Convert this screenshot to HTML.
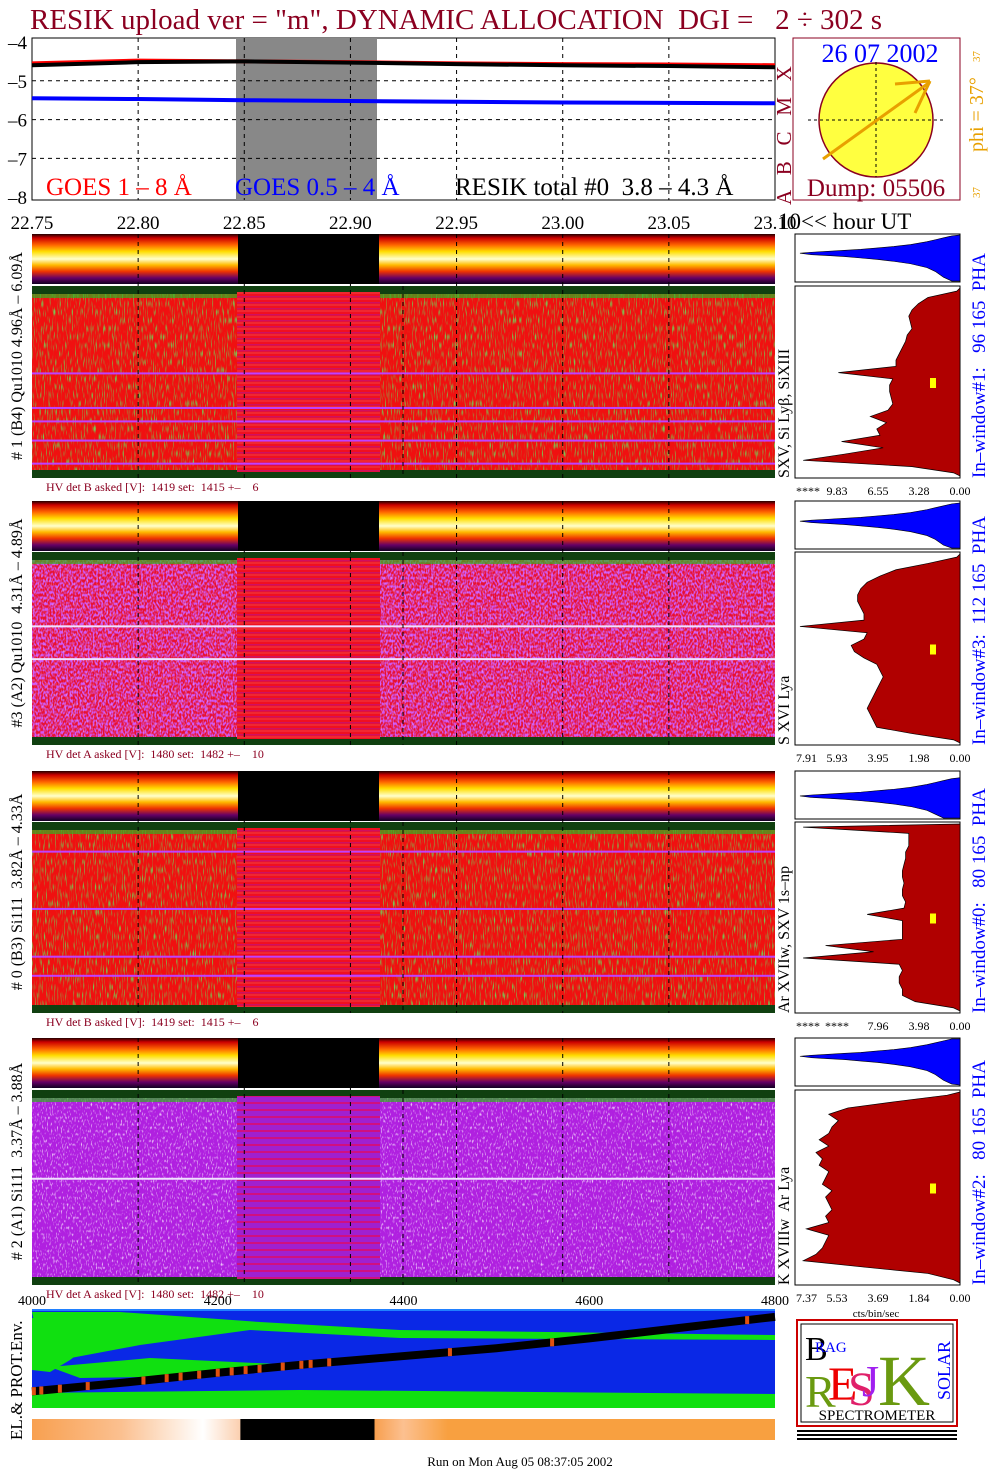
<!DOCTYPE html>
<html><head><meta charset="utf-8"><style>
html,body{margin:0;padding:0;background:#fff;}
svg{display:block;font-family:"Liberation Serif",serif;}
text{white-space:pre;}
</style></head><body>
<svg id="c" width="1004" height="1476" viewBox="0 0 1004 1476" xmlns="http://www.w3.org/2000/svg">
<defs>
<filter id="spkG" x="0" y="0" width="1" height="1"><feTurbulence type="fractalNoise" baseFrequency="0.9 0.12" numOctaves="1" seed="3"/><feColorMatrix type="matrix" values="0 0 0 0 0.15  0 0 0 0 0.7  0 0 0 0 0.1  4 0 0 0 -2.1"/></filter>
<filter id="spkP" x="0" y="0" width="1" height="1"><feTurbulence type="fractalNoise" baseFrequency="0.8 0.3" numOctaves="1" seed="7"/><feColorMatrix type="matrix" values="0 0 0 0 0.95  0 0 0 0 0.85  0 0 0 0 1  4 0 0 0 -2.2"/></filter>
<filter id="spkV" x="0" y="0" width="1" height="1"><feTurbulence type="fractalNoise" baseFrequency="0.6 0.35" numOctaves="1" seed="11"/><feColorMatrix type="matrix" values="0 0 0 0 0.62  0 0 0 0 0.1  0 0 0 0 0.95  4 0 0 0 -1.6"/></filter>
<linearGradient id="strip" x1="0" y1="0" x2="0" y2="1">
<stop offset="0" stop-color="#200"/><stop offset="0.08" stop-color="#c00"/><stop offset="0.22" stop-color="#f60"/><stop offset="0.35" stop-color="#fd0"/><stop offset="0.5" stop-color="#ffc"/><stop offset="0.62" stop-color="#fb0"/><stop offset="0.75" stop-color="#e30"/><stop offset="0.88" stop-color="#606"/><stop offset="1" stop-color="#102"/>
</linearGradient>
<pattern id="gapStripe" width="10" height="6" patternUnits="userSpaceOnUse"><rect width="10" height="6" fill="#f01020"/><rect y="2" width="10" height="1.5" fill="#d01060"/><rect y="4.5" width="10" height="1" fill="#f04040"/></pattern>
<pattern id="gapStripeV" width="10" height="7" patternUnits="userSpaceOnUse"><rect width="10" height="7" fill="#a020d0"/><rect y="3" width="10" height="2" fill="#d01080"/></pattern>
<linearGradient id="orangeStrip" x1="0" y1="0" x2="1" y2="0">
<stop offset="0" stop-color="#f8a050"/><stop offset="0.12" stop-color="#fbc090"/><stop offset="0.23" stop-color="#fff"/><stop offset="0.28" stop-color="#fbd0b0"/><stop offset="0.281" stop-color="#000"/><stop offset="0.46" stop-color="#000"/><stop offset="0.462" stop-color="#f8a050"/><stop offset="0.5" stop-color="#fcc090"/><stop offset="0.56" stop-color="#f8a040"/><stop offset="1" stop-color="#f8a040"/>
</linearGradient>
</defs>

<text x="30" y="29" font-size="29" fill="#8b0020">RESIK upload ver = "m", DYNAMIC ALLOCATION  DGI =   2 ÷ 302 s</text>

<g id="goes">
<rect x="32" y="38" width="743" height="162" fill="#fff" stroke="#000"/>
<rect x="236" y="38" width="141" height="162" fill="#888"/>
</g>
<text x="46" y="195" font-size="25" fill="#f00">GOES 1 – 8 Å</text>
<text x="235" y="195" font-size="25" fill="#0000ff">GOES 0.5 – 4 Å</text>
<text x="455" y="195" font-size="25" fill="#000">RESIK total #0  3.8 – 4.3 Å</text>
<text transform="translate(791,205) rotate(-90)" font-size="21" fill="#8b0020">A   B   C   M   X</text>

<g>
<rect x="793" y="38" width="167" height="162" fill="#fff" stroke="#8b0020"/>
<circle cx="876" cy="120" r="57" fill="#ffff40" stroke="#8b0020" stroke-width="1.5"/>
<line x1="808" y1="120" x2="943" y2="120" stroke="#000" stroke-dasharray="3,3"/>
<line x1="876" y1="62" x2="876" y2="177" stroke="#000" stroke-dasharray="3,3"/>
<line x1="823" y1="159" x2="930" y2="82" stroke="#e8a000" stroke-width="3"/>
<line x1="895" y1="84" x2="930" y2="81" stroke="#e8a000" stroke-width="3"/>
<line x1="915" y1="113" x2="930" y2="81" stroke="#e8a000" stroke-width="3"/>
<text x="880" y="62" font-size="26" fill="#0000ff" text-anchor="middle">26 07 2002</text>
<text x="876" y="196" font-size="25" fill="#8b0020" text-anchor="middle">Dump: 05506</text>
<text transform="translate(983,152) rotate(-90)" font-size="20" fill="#e8a000">phi = 37°</text>
<text transform="translate(980,62) rotate(-90)" font-size="11" fill="#e8a000">37</text>
<text transform="translate(980,198) rotate(-90)" font-size="11" fill="#e8a000">37</text>
</g>
<text x="778" y="229" font-size="23" fill="#000">10&lt;&lt; hour UT</text>

<g id="panels"></g>
<g id="hists"></g>
<g id="botAxis" font-size="14" fill="#000"></g>

<g>
<rect x="32" y="1310" width="743" height="98" fill="#0a28e6"/>
<path d="M32 1312 L120 1312 L260 1322 L400 1330 L775 1335 L775 1340 L400 1338 L250 1330 L140 1345 L60 1360 L40 1350 Z" fill="#10e010"/>
<path d="M32 1318 L100 1322 L90 1345 L70 1360 L50 1372 L32 1370 Z" fill="#10e010"/>
<path d="M50 1367 L150 1358 L320 1366 L200 1376 L80 1378 Z" fill="#10e010"/>
<path d="M32 1393 L300 1390 L775 1394 L775 1408 L32 1408 Z" fill="#10e010"/>
<line x1="32" y1="1310" x2="775" y2="1310" stroke="#2080ff" stroke-width="2"/>
<g id="envLine"></g>
</g>
<text transform="translate(22,1440) rotate(-90)" font-size="17" fill="#000">EL.&amp; PROT.Env.</text>
<rect x="32" y="1419" width="743" height="21" fill="url(#orangeStrip)"/>

<g>
<rect x="797" y="1320" width="160" height="106" fill="#fff" stroke="#c00" stroke-width="2"/>
<rect x="801" y="1324" width="152" height="98" fill="none" stroke="#000"/>
<text x="805" y="1360" font-size="34" fill="#000">B</text>
<text x="815" y="1352" font-size="15" fill="#00f">RAG</text>
<text x="805" y="1407" font-size="46" fill="#6a9a10">R</text>
<text x="828" y="1400" font-size="48" fill="#e00">E</text>
<text x="848" y="1405" font-size="48" fill="#e0206a">S</text>
<text x="862" y="1396" font-size="44" fill="#a020f0">J</text>
<text x="878" y="1405" font-size="72" fill="#6a9a10">K</text>
<text transform="translate(950,1400) rotate(-90)" font-size="18" fill="#00f">SOLAR</text>
<text x="877" y="1420" font-size="15" fill="#000" text-anchor="middle">SPECTROMETER</text>
<g fill="#000"><rect x="797" y="1430" width="160" height="2"/><rect x="797" y="1434" width="160" height="2"/><rect x="797" y="1438" width="160" height="2"/></g>
</g>
<text x="520" y="1466" font-size="13" fill="#000" text-anchor="middle">Run on Mon Aug 05 08:37:05 2002</text>
</svg>
<script>
const NS='http://www.w3.org/2000/svg';
function mk(tag,attrs,parent){const e=document.createElementNS(NS,tag);for(const k in attrs)e.setAttribute(k,attrs[k]);(parent||document.getElementById('c')).appendChild(e);return e;}

const goesHours=[22.75,22.80,22.85,22.90,22.95,23.00,23.05,23.10];
const goesLong=[-4.55,-4.48,-4.5,-4.52,-4.55,-4.57,-4.58,-4.6];
const goesShort=[-5.45,-5.47,-5.5,-5.52,-5.54,-5.56,-5.57,-5.58];
const resikTotal=[-4.6,-4.52,-4.5,-4.53,-4.57,-4.6,-4.62,-4.65];
const yTicks=[-4,-5,-6,-7,-8];
const xTickLabels=['22.75','22.80','22.85','22.90','22.95','23.00','23.05','23.10'];
const tx=h=>32+(h-22.75)/0.35*743;
const ty=v=>42+(-4-v)*38.8;
const g=document.getElementById('goes');
for(const v of [-5,-6,-7]){const l=mk('line',{x1:32,x2:775,y1:ty(v),y2:ty(v),stroke:'#000','stroke-dasharray':'4,4'},g);

}
for(let i=1;i<goesHours.length-1;i++){const l=mk('line',{x1:tx(goesHours[i]),x2:tx(goesHours[i]),y1:38,y2:200,stroke:'#000','stroke-dasharray':'4,4'},g);

}
function series(arr,color,w,name){const p=mk('polyline',{points:arr.map((v,i)=>tx(goesHours[i])+','+ty(v)).join(' '),fill:'none',stroke:color,'stroke-width':w},g);

}
series(goesLong,'#f00',4,'goes-long-line');
series(resikTotal,'#000',4,'resik-total-line');
series(goesShort,'#00f',4,'goes-short-line');
yTicks.forEach(v=>{const t=mk('text',{x:27,y:ty(v)+7,'font-size':19,'text-anchor':'end'});t.textContent=String(v).replace('-','–');

});
xTickLabels.forEach((s,i)=>{const t=mk('text',{x:tx(goesHours[i]),y:229,'font-size':19,'text-anchor':'middle'});t.textContent=s;

});

const panelTops=[234,501,771,1038];
const panelBig=[[286,478],[552,745],[822,1013],[1090,1285]];
const panelKind=['G','P','G','V'];
const leftLabels=['# 1 (B4) Qu1010 4.96Å – 6.09Å','#3 (A2) Qu1010  4.31Å – 4.89Å','# 0 (B3) Si111  3.82Å – 4.33Å','# 2 (A1) Si111  3.37Å – 3.88Å'];
const lineLabels=['SXV, Si Lyβ, SiXIII','S XVI Lya','Ar XVIIw, SXV 1s–np','K XVIIIw  Ar Lya'];
const hvLabels=['HV det B asked [V]:  1419 set:  1415 +–    6','HV det A asked [V]:  1480 set:  1482 +–    10','HV det B asked [V]:  1419 set:  1415 +–    6','HV det A asked [V]:  1480 set:  1482 +–    10'];
const lineRows=[[0.45,0.63,0.7,0.8,0.92],[0.38,0.55],[0.15,0.45,0.7,0.8],[0.45]];
const P=document.getElementById('panels');
for(let i=0;i<4;i++){
  const top=panelTops[i],b0=panelBig[i][0],b1=panelBig[i][1];
  const s=mk('rect',{x:32,y:top,width:743,height:50,fill:'url(#strip)'},P);
  
  
  mk('rect',{x:238,y:top,width:141,height:50,fill:'#000'},P);
  const base=(panelKind[i]==='V')?'#b020e0':(panelKind[i]==='P'?'#e81030':'#f01010');
  const r=mk('rect',{x:32,y:b0,width:743,height:b1-b0,fill:base},P);
  
  
  if(panelKind[i]==='P'){mk('rect',{x:32,y:b0,width:743,height:b1-b0,fill:'#000',filter:'url(#spkV)'},P);}
  if(panelKind[i]==='V'){mk('rect',{x:32,y:b0,width:743,height:b1-b0,fill:'#000',filter:'url(#spkP)',opacity:0.7},P);}
  mk('rect',{x:32,y:b0,width:743,height:b1-b0,fill:'#000',filter:panelKind[i]==='G'?'url(#spkG)':'url(#spkP)',opacity:panelKind[i]==='G'?0.9:0.4},P);
  mk('rect',{x:32,y:b0,width:743,height:8,fill:'#104010'},P);
  mk('rect',{x:32,y:b0+8,width:743,height:4,fill:'#30b020',opacity:0.7},P);
  mk('rect',{x:32,y:b1-8,width:743,height:8,fill:'#104010'},P);
  mk('rect',{x:237,y:b0+6,width:143,height:b1-b0-12,fill:panelKind[i]==='V'?'url(#gapStripeV)':'url(#gapStripe)'},P);
  lineRows[i].forEach(f=>mk('rect',{x:32,y:b0+f*(b1-b0),width:743,height:2,fill:panelKind[i]==='G'?'#c040ff':'#f0e0ff'},P));
  for(const h of goesHours.slice(1,7)){mk('line',{x1:tx(h),x2:tx(h),y1:top,y2:b1,stroke:'#000','stroke-dasharray':'4,4'},P);}
  mk('line',{x1:403,x2:403,y1:b0,y2:b1,stroke:'#000','stroke-dasharray':'4,4'},P);
  const t=mk('text',{transform:`translate(22,${(top+b1)/2}) rotate(-90)`,'font-size':16,'text-anchor':'middle'},P);t.textContent=leftLabels[i];
  
  
  const t2=mk('text',{transform:`translate(789,${b1}) rotate(-90)`,'font-size':16},P);t2.textContent=lineLabels[i];
  
  
  const t3=mk('text',{x:46,y:b1+13,'font-size':12,fill:'#8b0020'},P);t3.textContent=hvLabels[i];
  
  
}

// PHA horn shape: x fraction from left, upper/lower edge as fraction of box height
const phaXs=[0.03,0.1,0.2,0.3,0.4,0.5,0.6,0.7,0.8,0.85,0.9,0.95,1];
const phaUpper=[0,-0.02,-0.04,-0.06,-0.08,-0.11,-0.14,-0.18,-0.24,-0.28,-0.32,-0.36,-0.38];
const phaLower=[0,0.03,0.05,0.07,0.1,0.13,0.17,0.22,0.3,0.38,0.5,0.58,0.6];
const phaTip=[0.4,0.42,0.52,0.38];
const histSpec1=[0.02,0.2,0.26,0.3,0.32,0.31,0.3,0.33,0.34,0.36,0.38,0.4,0.4,0.76,0.42,0.44,0.44,0.43,0.42,0.45,0.56,0.46,0.52,0.5,0.74,0.48,0.72,0.98,0.3,0.04];
const histSpec3=[0.02,0.2,0.4,0.5,0.58,0.62,0.64,0.64,0.62,0.6,0.6,1.0,0.58,0.6,0.68,0.66,0.6,0.52,0.5,0.48,0.5,0.52,0.54,0.56,0.58,0.56,0.54,0.52,0.3,0.04];
const histSpec0=[0.98,0.32,0.32,0.32,0.34,0.34,0.35,0.36,0.36,0.35,0.36,0.36,0.34,0.35,0.58,0.36,0.36,0.36,0.36,0.84,0.54,0.98,0.38,0.36,0.38,0.38,0.36,0.36,0.28,0.04];
const histSpec2=[0.08,0.4,0.7,0.82,0.76,0.8,0.82,0.88,0.82,0.9,0.86,0.88,0.82,0.84,0.86,0.8,0.84,0.82,0.8,0.84,0.82,0.96,0.82,0.84,0.86,0.9,0.98,0.6,0.2,0.04];
const histSpecs=[histSpec1,histSpec3,histSpec0,histSpec2];
const histTicks=[['****','9.83','6.55','3.28','0.00'],['7.91','5.93','3.95','1.98','0.00'],['****','****','7.96','3.98','0.00'],['7.37','5.53','3.69','1.84','0.00']];
const winLabels=['In–window#1:   96 165  PHA','In–window#3:  112 165  PHA','In–window#0:   80 165  PHA','In–window#2:   80 165  PHA'];
const H=document.getElementById('hists');
const hx=f=>960-f*165;
const px=f=>795+f*165;
for(let i=0;i<4;i++){
  const top=panelTops[i],b0=panelBig[i][0],b1=panelBig[i][1];
  mk('rect',{x:795,y:top,width:165,height:48,fill:'#fff',stroke:'#000'},H);
  const py=f=>top+Math.max(0.02,Math.min(0.98,phaTip[i]+f))*48;
  let d=`M${px(phaXs[0])} ${py(0)}`;
  phaXs.forEach((x,k)=>{d+=` L${px(x)} ${py(phaUpper[k])}`;});
  for(let k=phaXs.length-1;k>=0;k--){d+=` L${px(phaXs[k])} ${py(phaLower[k])}`;}
  d+=' Z';
  const ph=mk('path',{d:d,fill:'#0000ff',stroke:'#000','stroke-width':0.6},H);
  
  
  mk('rect',{x:795,y:b0,width:165,height:b1-b0,fill:'#fff',stroke:'#000'},H);
  const arr=histSpecs[i],m=arr.length,sy=(b1-b0-4)/m;
  let d2=`M960 ${b0+2}`;arr.forEach((v,k)=>{d2+=` L${hx(v*0.97)} ${b0+2+(k+0.5)*sy}`;});d2+=` L960 ${b1-2} Z`;
  const sp=mk('path',{d:d2,fill:'#b00000',stroke:'#000','stroke-width':0.7},H);
  
  
  mk('rect',{x:930,y:(b0+b1)/2-4,width:6,height:10,fill:'#ffff00'},H);
  histTicks[i].forEach((s,k)=>{const t=mk('text',{x:796+k*41,y:b1+17,'font-size':12,'text-anchor':k===0?'start':'middle'},H);t.textContent=s;
  
  });
  const w=mk('text',{transform:`translate(985,${b1}) rotate(-90)`,'font-size':19,fill:'#0000ff'},H);w.textContent=winLabels[i];
  
  
}
const cb=mk('text',{x:876,y:1317,'font-size':11,'text-anchor':'middle'},H);cb.textContent='cts/bin/sec';



const binTicks=[4000,4200,4400,4600,4800];
const bx=v=>32+(v-4000)/800*743;
const BA=document.getElementById('botAxis');
binTicks.forEach(v=>{const t=mk('text',{x:bx(v),y:1305,'text-anchor':'middle'},BA);t.textContent=v;

});

const envBins=[4000,4100,4200,4300,4400,4500,4600,4700,4800];
const envVals=[0.83,0.74,0.64,0.55,0.47,0.39,0.29,0.18,0.07];
const ey=f=>1310+f*98;
const EL=document.getElementById('envLine');
const el=mk('polyline',{points:envBins.map((b,k)=>bx(b)+','+ey(envVals[k])).join(' '),fill:'none',stroke:'#000','stroke-width':8},EL);


const markBins=[4002,4010,4030,4060,4120,4145,4160,4180,4200,4215,4230,4245,4270,4290,4300,4320,4450,4560,4770];
markBins.forEach(b=>{let k=Math.min(7,Math.floor((b-4000)/100));const f=envVals[k]+(envVals[k+1]-envVals[k])*((b-envBins[k])/100);
const m=mk('rect',{x:bx(b)-2,y:ey(f)-4,width:4,height:8,fill:'#e05010'},EL);

});
</script>
</body></html>
